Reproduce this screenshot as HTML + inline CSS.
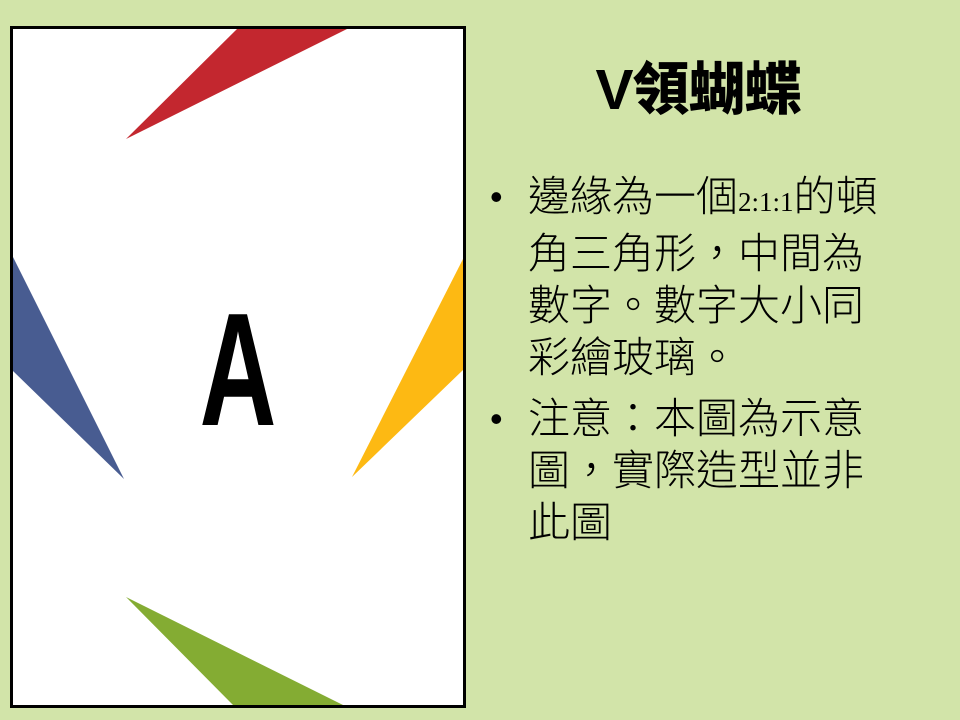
<!DOCTYPE html>
<html><head><meta charset="utf-8"><style>
html,body{margin:0;padding:0}
body{width:960px;height:720px;background:#d2e4a9;position:relative;overflow:hidden;font-family:"Liberation Sans","Noto Sans CJK TC",sans-serif}
#card{position:absolute;left:0;top:0}
.title{position:absolute;left:548px;width:300px;top:58px;text-align:center;font-size:57px;font-weight:900;color:#000;line-height:64px;letter-spacing:-1px}
.list{position:absolute;left:490px;top:171px;width:460px;font-size:42px;color:#000;line-height:52px;font-weight:300;white-space:nowrap}
.item{position:relative;padding-left:38px;margin-bottom:9px}
.item .b{position:absolute;left:0;top:0;font-size:36px}
.num{font-family:"Liberation Serif",serif;font-size:27px}
</style></head><body>
<svg id="card" width="960" height="720">
<rect x="11.5" y="27.5" width="453" height="679" fill="#fff" stroke="#000" stroke-width="3"/>
<polygon points="126,139 237,29 347,29" fill="#c3272f"/>
<polygon points="13,257 13,371 124,479" fill="#485c91"/>
<polygon points="463,259 463,370 352,477" fill="#fdb913"/>
<polygon points="126,597 233,705 343,705" fill="#84ac33"/>
<text x="0" y="425" transform="translate(238,0) scale(0.66,1)" text-anchor="middle" font-family="Liberation Sans" font-weight="bold" font-size="161">A</text>
</svg>
<div class="title">V領蝴蝶</div>
<div class="list">
<div class="item"><span class="b">•</span>邊緣為一個<span class="num">2:1:1</span>的頓<br>角三角形，中間為<br>數字。數字大小同<br>彩繪玻璃。</div>
<div class="item"><span class="b">•</span>注意：本圖為示意<br>圖，實際造型並非<br>此圖</div>
</div>
</body></html>
